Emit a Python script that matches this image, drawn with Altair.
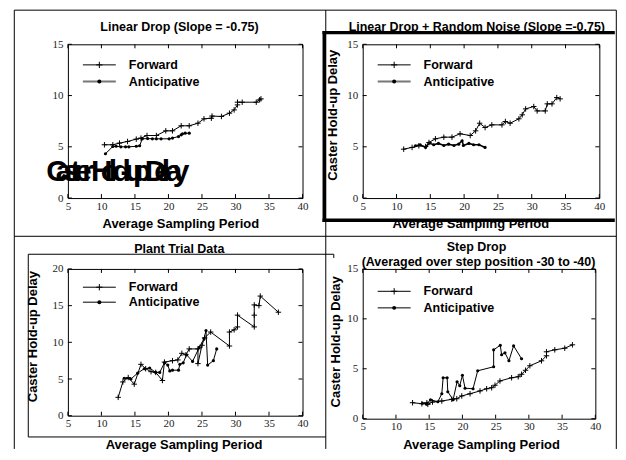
import altair as alt
import pandas as pd

SERIES = ["Forward", "Anticipative"]
X_TICKS = [5, 10, 15, 20, 25, 30, 35, 40]
Y_TICKS_15 = [0, 5, 10, 15]
Y_TICKS_20 = [0, 5, 10, 15, 20]

# Panel 1: Linear Drop
lin_fwd_x = [10.45, 11.7, 12.7, 13.9, 15.2, 15.9, 16.8, 18.2, 19.6, 20.6, 21.9, 23.1, 24.4, 25.3,
             26.4, 26.5, 27.9, 29.1, 29.8, 30.3, 30.3, 31.0, 33.1, 33.6, 33.8]
lin_fwd_y = [5.2, 5.2, 5.36, 5.52, 5.75, 5.85, 6.1, 6.1, 6.56, 6.56, 7.05, 7.05, 7.3, 7.73,
             7.79, 8.0, 7.96, 8.28, 8.6, 9.09, 9.35, 9.35, 9.35, 9.58, 9.68]
lin_ant_x = [10.6, 11.7, 12.2, 12.9, 13.6, 14.1, 15.2, 15.7, 16.1, 16.9, 17.6, 18.2, 18.9, 20.1,
             20.6, 21.5, 21.9, 22.1, 22.5, 23.1]
lin_ant_y = [4.32, 5.03, 5.05, 5.0, 5.0, 5.0, 5.05, 5.1, 5.78, 5.8, 5.78, 5.78, 5.78, 5.78,
             5.85, 6.0, 6.17, 6.27, 6.33, 6.33]

# Panel 2: Linear Drop + Random Noise
noi_fwd_x = [11.06, 12.3, 13.3, 14.3, 14.8, 15.75, 17.0, 18.2, 19.4, 20.9, 21.7, 22.3, 23.1, 24.1,
             25.6, 26.1, 26.8, 28.1, 28.6, 29.1, 30.3, 30.8, 32.0, 32.3, 33.0, 33.7, 34.2]
noi_fwd_y = [4.77, 4.94, 5.1, 5.03, 5.42, 5.78, 5.94, 5.94, 6.27, 6.1, 6.56, 7.3, 6.88, 7.14,
             7.14, 7.47, 7.3, 7.73, 8.12, 8.7, 8.93, 8.5, 8.5, 9.19, 9.19, 9.8, 9.68]
noi_ant_x = [12.8, 13.5, 14.3, 14.8, 15.5, 16.2, 17.0, 17.7, 18.5, 19.2, 19.7, 19.9, 20.7, 21.4,
             22.2, 23.1]
noi_ant_y = [5.1, 5.2, 4.94, 5.36, 5.2, 5.33, 5.13, 5.26, 5.13, 5.26, 5.59, 5.13, 5.33, 5.2,
             5.2, 4.94]

# Panel 3: Plant Trial Data
pla_fwd_x = [12.5, 13.2, 14.0, 14.9, 15.9, 16.6, 17.4, 18.1, 19.1, 19.4, 20.6, 21.4, 22.0, 22.6,
             23.1, 24.4, 24.4, 25.0, 25.4, 26.3, 29.1, 29.1, 29.8, 30.3, 30.3, 32.8, 32.8, 32.8,
             33.5, 33.7, 36.4]
pla_fwd_y = [2.5, 4.6, 5.2, 4.3, 7.0, 6.4, 6.0, 5.9, 4.8, 7.3, 7.5, 7.6, 8.5, 8.3,
             9.1, 9.1, 7.1, 9.6, 10.6, 11.4, 9.5, 11.4, 11.7, 12.1, 13.7, 12.1, 13.7, 15.1,
             15.0, 16.3, 14.1]
pla_ant_x = [13.4, 14.4, 15.4, 16.4, 17.2, 18.1, 18.7, 19.4, 19.9, 20.2, 20.6, 21.5, 21.7, 22.2,
             22.7, 23.6, 24.6, 25.3, 25.6, 25.85, 26.7, 27.2]
pla_ant_y = [5.1, 5.0, 5.8, 6.4, 6.5, 5.9, 5.9, 7.2, 6.9, 6.1, 6.2, 6.2, 7.0, 7.2,
             8.3, 7.4, 9.3, 10.5, 11.6, 6.9, 7.5, 9.1]

# Panel 4: Step Drop
stp_fwd_x = [12.5, 13.9, 14.65, 14.8, 15.5, 16.9, 18.4, 19.15, 19.9, 21.15, 22.65, 23.65, 24.4,
             24.9, 25.65, 27.4, 28.4, 28.9, 29.5, 30.15, 31.9, 32.65, 32.65, 33.9, 35.4, 36.55]
stp_fwd_y = [1.6, 1.5, 1.6, 1.44, 1.67, 1.77, 1.94, 2.0, 2.28, 2.5, 2.78, 3.0, 3.1,
             3.35, 3.78, 4.1, 4.2, 4.45, 4.85, 5.3, 5.8, 6.3, 6.7, 6.9, 7.06, 7.4]
stp_ant_x = [14.0, 14.6, 15.2, 16.3, 16.9, 17.1, 17.7, 17.8, 18.6, 19.2, 19.6, 20.0, 20.4, 21.6,
             22.3, 24.7, 24.7, 25.7, 25.9, 26.4, 27.0, 27.7, 28.9]
stp_ant_y = [1.55, 1.45, 1.9, 1.7, 2.5, 4.1, 4.1, 2.7, 1.9, 3.7, 3.3, 4.35, 3.05, 3.0,
             4.8, 5.2, 6.9, 7.35, 6.4, 6.6, 5.8, 7.3, 6.0]

TITLES = [
    ["Linear Drop (Slope = -0.75)"],
    ["Linear Drop + Random Noise (Slope =-0.75)"],
    ["Plant Trial Data"],
    ["Step Drop", "(Averaged over step position -30 to -40)"],
]
X_TITLE = "Average Sampling Period"
Y_TITLE = "Caster Hold-up Delay"

GARBLED_ADV = [0.722, 0.556, 0.556, 0.333, 0.556, 0.389, 0.278, 0.722, 0.611, 0.278, 0.611,
               0.333, 0.611, 0.611, 0.278, 0.722, 0.556, 0.278, 0.556, 0.556]

PLUS = "M-1,0H1M0,-1V1"
SANS = "Liberation Sans"
SERIF = "Liberation Serif"


def mkdf(fx, fy, ax, ay):
    rows = []
    for i, (a, b) in enumerate(zip(fx, fy)):
        rows.append({"x": a, "y": b, "series": "Forward", "i": i})
    for i, (a, b) in enumerate(zip(ax, ay)):
        rows.append({"x": a, "y": b, "series": "Anticipative", "i": i})
    return pd.DataFrame(rows)


def one():
    return alt.Data(values=[{}])


def hrule(x1, x2, y, sw=1.0, color="black"):
    return alt.Chart(one()).mark_rule(color=color, strokeWidth=sw).encode(
        x=alt.value(x1), x2=alt.value(x2), y=alt.value(y))


def vrule(x, y1, y2, sw=1.0, color="black"):
    return alt.Chart(one()).mark_rule(color=color, strokeWidth=sw).encode(
        x=alt.value(x), y=alt.value(y1), y2=alt.value(y2))


def panel(df, w, h, ymax, yticks, titles, title_pos, xt_x, xt_y,
          show_ytitle, yt_x, yt_y, leg_y, leg_gray, ant_sw, extras, garbled=False):
    xs = alt.Scale(domain=[5, 40], nice=False, zero=False)
    ys = alt.Scale(domain=[0, ymax], nice=False, zero=False)
    xaxis = alt.Axis(values=X_TICKS, ticks=False, tickSize=0, domain=False, grid=False,
                     labelFont=SERIF, labelFontSize=11, labelColor="#222", labelPadding=2,
                     labelFlush=False, labelOverlap=False,
                     title=X_TITLE, titleFont=SANS, titleFontSize=13,
                     titleFontWeight="bold", titleColor="black", titleX=xt_x, titleY=xt_y,
                     titleBaseline="middle", titleAlign="center")
    ykw = dict(values=yticks, ticks=False, tickSize=0, domain=False, grid=False,
               labelFont=SERIF, labelFontSize=11, labelColor="#222", labelPadding=5,
               labelFlush=False, labelOverlap=False)
    if show_ytitle:
        yaxis = alt.Axis(title=Y_TITLE, titleFont=SANS, titleFontSize=13, titleFontWeight="bold",
                         titleColor="black", titleX=yt_x, titleY=yt_y, titleBaseline="middle",
                         titleAlign="center", titleAngle=270, **ykw)
    else:
        yaxis = alt.Axis(title=None, **ykw)

    base = alt.Chart(df)
    fwd = base.transform_filter(alt.datum.series == "Forward")
    ant = base.transform_filter(alt.datum.series == "Anticipative")
    enc = dict(x=alt.X("x:Q", scale=xs, axis=xaxis), y=alt.Y("y:Q", scale=ys, axis=yaxis))
    l1 = fwd.mark_line(color="black", strokeWidth=1).encode(order="i:Q", **enc)
    l2 = ant.mark_line(color="black", strokeWidth=ant_sw).encode(order="i:Q", **enc)
    m1 = fwd.mark_point(shape=PLUS, size=30, filled=False, color="black", strokeWidth=1,
                        opacity=1).encode(**enc)
    m2 = ant.mark_circle(size=10, color="black", opacity=1).encode(**enc)

    xt = alt.Chart(alt.Data(values=[{"x": v} for v in X_TICKS]))
    yt = alt.Chart(alt.Data(values=[{"y": v} for v in yticks]))
    tx = alt.X("x:Q", scale=xs, axis=xaxis)
    ty = alt.Y("y:Q", scale=ys, axis=yaxis)
    ticks = [
        xt.mark_rule(color="black").encode(x=tx, y=alt.value(h), y2=alt.value(h - 4)),
        xt.mark_rule(color="black").encode(x=tx, y=alt.value(0), y2=alt.value(4)),
        yt.mark_rule(color="black").encode(y=ty, x=alt.value(0), x2=alt.value(4)),
        yt.mark_rule(color="black").encode(y=ty, x=alt.value(w), x2=alt.value(w - 4)),
    ]

    leg = []
    for k, name in enumerate(SERIES):
        ly = leg_y[k]
        gray = leg_gray and name == "Anticipative"
        d = alt.Chart(alt.Data(values=[{"s": name}]))
        leg.append(d.mark_rule(color="#777" if gray else "black", strokeWidth=2 if gray else 1)
                   .encode(x=alt.value(15), x2=alt.value(48), y=alt.value(ly)))
        if name == "Forward":
            leg.append(d.mark_point(shape=PLUS, size=40, filled=False, color="black",
                                    strokeWidth=1, opacity=1)
                       .encode(x=alt.value(31.5), y=alt.value(ly)))
        else:
            leg.append(d.mark_circle(size=16, color="black", opacity=1)
                       .encode(x=alt.value(31.5), y=alt.value(ly)))
        leg.append(d.mark_text(align="left", baseline="middle", font=SANS, fontSize=12.5,
                               fontWeight="bold", color="black")
                   .encode(text="s:N", x=alt.value(61), y=alt.value(ly)))

    tl = []
    for line, (tx_, ty_) in zip(titles, title_pos):
        tl.append(alt.Chart(alt.Data(values=[{"t": line}]))
                  .mark_text(align="center", baseline="alphabetic", font=SANS, fontSize=12.5,
                             fontWeight="bold", color="black")
                  .encode(text="t:N", x=alt.value(tx_), y=alt.value(ty_)))

    layers = list(extras) + [l1, l2, m1, m2] + ticks + leg + tl
    if garbled:
        rows = []
        cum = 0.0
        for ch, a in zip(Y_TITLE, GARBLED_ADV):
            rows.append({"c": ch, "cum": cum})
            cum += a
        g = (alt.Chart(alt.Data(values=rows))
             .transform_calculate(x="5 + (-21.7 + 13.26 * datum.cum) * 35 / %g" % w)
             .mark_text(align="left", baseline="alphabetic", font=SANS, fontSize=30,
                        fontWeight="bold", color="black")
             .encode(text="c:N", x=alt.X("x:Q", scale=xs, axis=xaxis), y=alt.value(137.3)))
        layers.append(g)

    return alt.layer(*layers).properties(width=w, height=h)


# decorations (frame lines), relative to each panel's plot area
frame1 = [
    vrule(-53.7, -34.2, 405.3), hrule(-53.7, 549.3, -34.2), vrule(549.3, -34.2, 405.3),
    vrule(258.3, -34.2, 405.3), hrule(-53.7, 549.3, 192.3),
]
box2 = [
    hrule(-40.25, 252.5, -11.7, 3.5), hrule(-40.25, 252.5, 176.3, 3.5),
    vrule(-38.5, -13.45, 178.05, 3.5),
]
box3 = [
    hrule(-39.7, 266.3, -14.7), vrule(266.3, -14.7, -11.0), vrule(-39.7, -14.7, 168.3),
    hrule(-39.7, 258.3, 168.3),
]

p1 = panel(mkdf(lin_fwd_x, lin_fwd_y, lin_ant_x, lin_ant_y), 235, 154, 15, Y_TICKS_15,
           TITLES[0], [(111.8, -13.2)], 112.6, 25.3,
           False, 0, 0, [20.6, 37.3], True, 1, frame1, garbled=True)
p2 = panel(mkdf(noi_fwd_x, noi_fwd_y, noi_ant_x, noi_ant_y), 237, 154, 15, Y_TICKS_15,
           TITLES[1], [(114.3, -13.2)], 107.7, 25.8,
           True, -30.7, 70.6, [20.6, 37.3], True, 1.6, box2)
p3 = panel(mkdf(pla_fwd_x, pla_fwd_y, pla_ant_x, pla_ant_y), 235, 147, 20, Y_TICKS_20,
           TITLES[2], [(111.6, -15.5)], 115.8, 29,
           True, -35, 67.3, [18.3, 33.3], False, 1, box3)
p4 = panel(mkdf(stp_fwd_x, stp_fwd_y, stp_ant_x, stp_ant_y), 233, 150, 15, Y_TICKS_15,
           TITLES[3], [(114, -18.2), (116, -3.2)], 118.5, 25.6,
           True, -27.3, 72.5, [22.4, 39.0], False, 1, [])

chart = alt.concat(p1, p2, p3, p4, columns=2, spacing={"row": 71, "column": 60.3},
                   bounds="flush",
                   padding={"left": 5, "top": 0, "right": 0, "bottom": 0},
                   background="white").configure_view(stroke="black", strokeWidth=1)

chart.save("out.html", embed_options={"renderer": "svg", "actions": False})
